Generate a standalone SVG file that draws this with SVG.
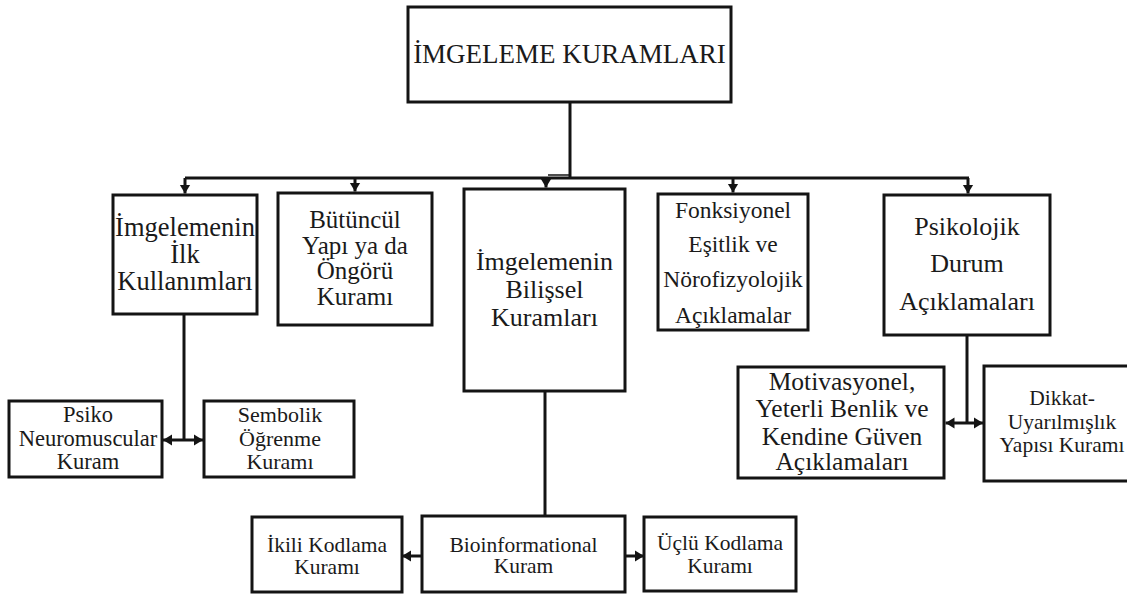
<svg xmlns="http://www.w3.org/2000/svg" width="1127" height="594" viewBox="0 0 1127 594">
<style>
.box{fill:#fff;stroke:#141414;stroke-width:3}
.t{font-family:'Liberation Serif','Times New Roman','DejaVu Serif',serif;fill:#1a1a1a;text-anchor:middle}
.c{fill:none;stroke:#141414;stroke-width:3}
</style>
<defs>
<marker id="ah" viewBox="0 0 10 12" refX="10" refY="6" markerWidth="9" markerHeight="12" markerUnits="userSpaceOnUse" orient="auto">
<path d="M0 0 L10 6 L0 12 z" fill="#141414"/>
</marker>
</defs>
<rect width="1127" height="594" fill="#fff"/>
<g id="connectors">
<path class="c" d="M570 102 V178"/>
<path d="M548 175 H570" stroke="#141414" stroke-width="1.5" fill="none"/>
<path class="c" d="M185 178 H969"/>
<path class="c" d="M185 178 V193.5" marker-end="url(#ah)"/>
<path class="c" d="M355 178 V191.5" marker-end="url(#ah)"/>
<path class="c" d="M546 178 V187.5" marker-end="url(#ah)"/>
<path class="c" d="M733 178 V192.5" marker-end="url(#ah)"/>
<path class="c" d="M968 178 V193.5" marker-end="url(#ah)"/>
<path class="c" d="M184 314 V440"/>
<path class="c" d="M184 440 H163" marker-end="url(#ah)"/>
<path class="c" d="M184 440 H203" marker-end="url(#ah)"/>
<path class="c" d="M545 391 V516"/>
<path class="c" d="M422 556 H402" marker-end="url(#ah)"/>
<path class="c" d="M625 556 H644" marker-end="url(#ah)"/>
<path class="c" d="M967 335 V423"/>
<path class="c" d="M967 423 H945.5" marker-end="url(#ah)"/>
<path class="c" d="M967 423 H983" marker-end="url(#ah)"/>
</g>
<g id="root">
<rect class="box" x="408" y="7" width="323" height="95"/>
<text class="t" font-family="Liberation Serif, serif" x="569.5" y="63" font-size="27">İMGELEME KURAMLARI</text>
</g>
<g id="ilk">
<rect class="box" x="113" y="195" width="144" height="119"/>
<text class="t" font-family="Liberation Serif, serif" font-size="26.5"><tspan x="185" y="236">İmgelemenin</tspan><tspan x="185" y="263">İlk</tspan><tspan x="185" y="290">Kullanımları</tspan></text>
</g>
<g id="butuncul">
<rect class="box" x="278" y="193" width="154" height="132"/>
<text class="t" font-family="Liberation Serif, serif" font-size="25"><tspan x="355" y="228">Bütüncül</tspan><tspan x="355" y="254">Yapı ya da</tspan><tspan x="355" y="279">Öngörü</tspan><tspan x="355" y="305">Kuramı</tspan></text>
</g>
<g id="bilissel">
<rect class="box" x="464" y="189" width="161" height="202"/>
<text class="t" font-family="Liberation Serif, serif" font-size="26"><tspan x="544.5" y="270">İmgelemenin</tspan><tspan x="544.5" y="298">Bilişsel</tspan><tspan x="544.5" y="326">Kuramları</tspan></text>
</g>
<g id="fonksiyonel">
<rect class="box" x="658" y="194" width="150" height="136"/>
<text class="t" font-family="Liberation Serif, serif" font-size="23.5"><tspan x="733" y="218">Fonksiyonel</tspan><tspan x="733" y="252">Eşitlik ve</tspan><tspan x="733" y="287">Nörofizyolojik</tspan><tspan x="733" y="323">Açıklamalar</tspan></text>
</g>
<g id="psikolojik">
<rect class="box" x="884" y="195" width="166" height="140"/>
<text class="t" font-family="Liberation Serif, serif" font-size="26"><tspan x="967" y="235">Psikolojik</tspan><tspan x="967" y="272">Durum</tspan><tspan x="967" y="310">Açıklamaları</tspan></text>
</g>
<g id="psiko">
<rect class="box" x="9" y="401" width="153" height="76"/>
<text class="t" font-family="Liberation Serif, serif" font-size="22.5"><tspan x="88" y="422">Psiko</tspan><tspan x="88" y="446">Neuromuscular</tspan><tspan x="88" y="469">Kuram</tspan></text>
</g>
<g id="sembolik">
<rect class="box" x="204" y="401" width="150" height="76"/>
<text class="t" font-family="Liberation Serif, serif" font-size="22"><tspan x="280" y="422">Sembolik</tspan><tspan x="280" y="446">Öğrenme</tspan><tspan x="280" y="469">Kuramı</tspan></text>
</g>
<g id="motivasyonel">
<rect class="box" x="738" y="367" width="206" height="111"/>
<text class="t" font-family="Liberation Serif, serif" font-size="25.5"><tspan x="842" y="390">Motivasyonel,</tspan><tspan x="842" y="417">Yeterli Benlik ve</tspan><tspan x="842" y="445">Kendine Güven</tspan><tspan x="842" y="470">Açıklamaları</tspan></text>
</g>
<g id="dikkat">
<rect class="box" x="984" y="366" width="160" height="115"/>
<text class="t" font-family="Liberation Serif, serif" font-size="21.5"><tspan x="1062" y="405">Dikkat-</tspan><tspan x="1062" y="429">Uyarılmışlık</tspan><tspan x="1062" y="452">Yapısı Kuramı</tspan></text>
</g>
<g id="ikili">
<rect class="box" x="252" y="517" width="150" height="75"/>
<text class="t" font-family="Liberation Serif, serif" font-size="21.5"><tspan x="327" y="552">İkili Kodlama</tspan><tspan x="327" y="574">Kuramı</tspan></text>
</g>
<g id="bioinformational">
<rect class="box" x="422" y="516" width="203" height="76"/>
<text class="t" font-family="Liberation Serif, serif" font-size="21.5"><tspan x="523.5" y="552">Bioinformational</tspan><tspan x="523.5" y="573">Kuram</tspan></text>
</g>
<g id="uclu">
<rect class="box" x="644" y="517" width="152" height="74"/>
<text class="t" font-family="Liberation Serif, serif" font-size="21.5"><tspan x="720" y="550">Üçlü Kodlama</tspan><tspan x="720" y="573">Kuramı</tspan></text>
</g>
</svg>
